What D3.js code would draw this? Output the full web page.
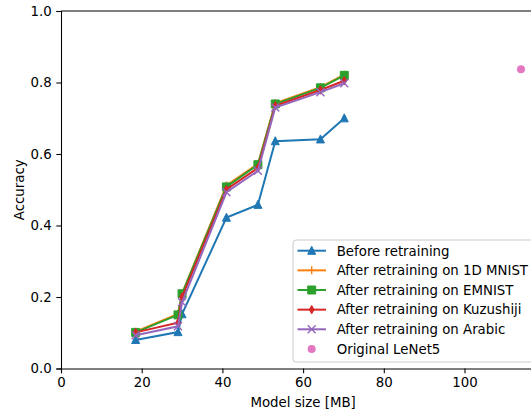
<!DOCTYPE html>
<html>
<head>
<meta charset="utf-8">
<script src="https://cdn.jsdelivr.net/npm/d3@7"></script>
<style>
  body { margin: 0; background: #fff; }
  text { font-family: "DejaVu Sans", sans-serif; }
</style>
</head>
<body>
<div id="chart"></div>
<script>
// model sizes in MB
var sizes = [18.5, 29, 30, 41, 48.8, 53.1, 64.3, 70.2];

var seriesNames = [
  "Before retraining",
  "After retraining on 1D MNIST",
  "After retraining on EMNIST",
  "After retraining on Kuzushiji",
  "After retraining on Arabic"
];
var beforeAcc   = [0.080, 0.102, 0.152, 0.422, 0.458, 0.636, 0.641, 0.700];
var mnist1dAcc  = [0.103, 0.153, 0.210, 0.512, 0.572, 0.742, 0.787, 0.822];
var emnistAcc   = [0.101, 0.150, 0.209, 0.508, 0.570, 0.740, 0.785, 0.820];
var kuzuAcc     = [0.101, 0.128, 0.200, 0.501, 0.561, 0.735, 0.779, 0.805];
var arabicAcc   = [0.093, 0.118, 0.185, 0.493, 0.553, 0.730, 0.773, 0.798];

var lenetSize = 114;
var lenetAcc = 0.837;

var xTicks = [0, 20, 40, 60, 80, 100];
var yTicks = [0.0, 0.2, 0.4, 0.6, 0.8, 1.0];

var colors = ["#1f77b4", "#ff7f0e", "#2ca02c", "#d62728", "#9467bd"];
var lenetColor = "#e377c2";
var markers = ["triangle", "plus", "square", "thin_diamond", "x"];

var width = 531, height = 414;
var margin = {left: 61, top: 11};
var plotW = 484.2, plotH = 357.5;
var fontSize = "13.33px";

var svg = d3.select("#chart").append("svg")
    .attr("width", width)
    .attr("height", height);

var x = d3.scaleLinear().domain([0, 120]).range([margin.left, margin.left + plotW]);
var y = d3.scaleLinear().domain([0, 1]).range([margin.top + plotH, margin.top]);

// marker path generator, s = marker size in px
function markerPath(type, s) {
  var h = s / 2;
  switch (type) {
    case "triangle":
      return "M0," + (-h * 1.1) + "L" + h + "," + (h * 0.9) + "L" + (-h) + "," + (h * 0.9) + "Z";
    case "square":
      return "M" + (-h) + "," + (-h) + "H" + h + "V" + h + "H" + (-h) + "Z";
    case "thin_diamond":
      return "M0," + (-h * 1.05) + "L" + (h * 0.6) + ",0L0," + (h * 1.05) + "L" + (-h * 0.6) + ",0Z";
    case "plus":
      return "M" + (-h) + ",0H" + h + "M0," + (-h) + "V" + h;
    case "x":
      return "M" + (-h) + "," + (-h) + "L" + h + "," + h + "M" + h + "," + (-h) + "L" + (-h) + "," + h;
  }
}
function isStroke(type) { return type === "plus" || type === "x"; }

// clip
svg.append("clipPath").attr("id", "clip")
  .append("rect")
  .attr("x", margin.left).attr("y", margin.top - 6)
  .attr("width", plotW).attr("height", plotH + 12);

// axes
var xAxis = svg.append("g")
    .attr("transform", "translate(0," + (margin.top + plotH) + ")")
    .call(d3.axisBottom(x).tickValues(xTicks).tickFormat(d3.format("d")).tickSizeOuter(0).tickSize(4.67).tickPadding(4.8));
var yAxis = svg.append("g")
    .attr("transform", "translate(" + margin.left + ",0)")
    .call(d3.axisLeft(y).tickValues(yTicks).tickFormat(d3.format(".1f")).tickSizeOuter(0).tickSize(4.67).tickPadding(4.67));

[xAxis, yAxis].forEach(function(a) {
  a.selectAll("text").attr("font-size", fontSize).attr("fill", "#000")
    .style("font-family", "DejaVu Sans, sans-serif");
  a.selectAll("line").attr("stroke", "#000").attr("stroke-width", 1.07);
  a.select(".domain").attr("stroke", "#000").attr("stroke-width", 1.07);
});

// top spine
svg.append("line")
    .attr("x1", margin.left).attr("x2", margin.left + plotW)
    .attr("y1", margin.top).attr("y2", margin.top)
    .attr("stroke", "#000").attr("stroke-width", 1.07);

svg.append("text")
    .attr("x", x(60)).attr("y", 406.5)
    .attr("text-anchor", "middle")
    .attr("font-size", fontSize)
    .text("Model size [MB]");

svg.append("text")
    .attr("transform", "translate(23.5," + y(0.5) + ") rotate(-90)")
    .attr("text-anchor", "middle")
    .attr("font-size", fontSize)
    .text("Accuracy");

var allSeries = [beforeAcc, mnist1dAcc, emnistAcc, kuzuAcc, arabicAcc];
var plot = svg.append("g").attr("clip-path", "url(#clip)");

var line = d3.line().x(function(d) { return x(d[0]); }).y(function(d) { return y(d[1]); });

allSeries.forEach(function(vals, i) {
  var pts = sizes.map(function(s, j) { return [s, vals[j]]; });
  var g = plot.append("g");
  g.append("path")
    .attr("d", line(pts))
    .attr("fill", "none")
    .attr("stroke", colors[i])
    .attr("stroke-width", 2);
  g.selectAll("path.m").data(pts).enter().append("path")
    .attr("class", "m")
    .attr("transform", function(d) { return "translate(" + x(d[0]) + "," + y(d[1]) + ")"; })
    .attr("d", markerPath(markers[i], 8))
    .attr("fill", isStroke(markers[i]) ? "none" : colors[i])
    .attr("stroke", colors[i])
    .attr("stroke-width", isStroke(markers[i]) ? 1.4 : 1);
});

plot.append("circle")
    .attr("cx", x(lenetSize)).attr("cy", y(lenetAcc))
    .attr("r", 4)
    .attr("fill", lenetColor);

// legend
var legX = 293, legY = 240, rowH = 19.65;
var leg = svg.append("g");
leg.append("rect")
    .attr("x", legX).attr("y", legY)
    .attr("width", 247).attr("height", 122)
    .attr("rx", 3)
    .attr("fill", "#fff").attr("fill-opacity", 0.8)
    .attr("stroke", "#ccc").attr("stroke-width", 1);

var legendItems = seriesNames.map(function(n, i) { return {name: n, color: colors[i], marker: markers[i], line: true}; });
legendItems.push({name: "Original LeNet5", color: lenetColor, marker: "circle", line: false});

legendItems.forEach(function(it, i) {
  var cy = legY + 10.7 + i * rowH;
  var g = leg.append("g");
  if (it.line) {
    g.append("line")
      .attr("x1", legX + 4.5).attr("x2", legX + 33)
      .attr("y1", cy).attr("y2", cy)
      .attr("stroke", it.color).attr("stroke-width", 2);
  }
  if (it.marker === "circle") {
    g.append("circle").attr("cx", legX + 18.7).attr("cy", cy).attr("r", 4).attr("fill", it.color);
  } else {
    g.append("path")
      .attr("transform", "translate(" + (legX + 18.7) + "," + cy + ")")
      .attr("d", markerPath(it.marker, 8))
      .attr("fill", isStroke(it.marker) ? "none" : it.color)
      .attr("stroke", it.color)
      .attr("stroke-width", isStroke(it.marker) ? 1.4 : 1);
  }
  g.append("text")
    .attr("x", legX + 43.7).attr("y", cy + 4.8)
    .attr("font-size", fontSize)
    .text(it.name);
});
</script>
</body>
</html>
